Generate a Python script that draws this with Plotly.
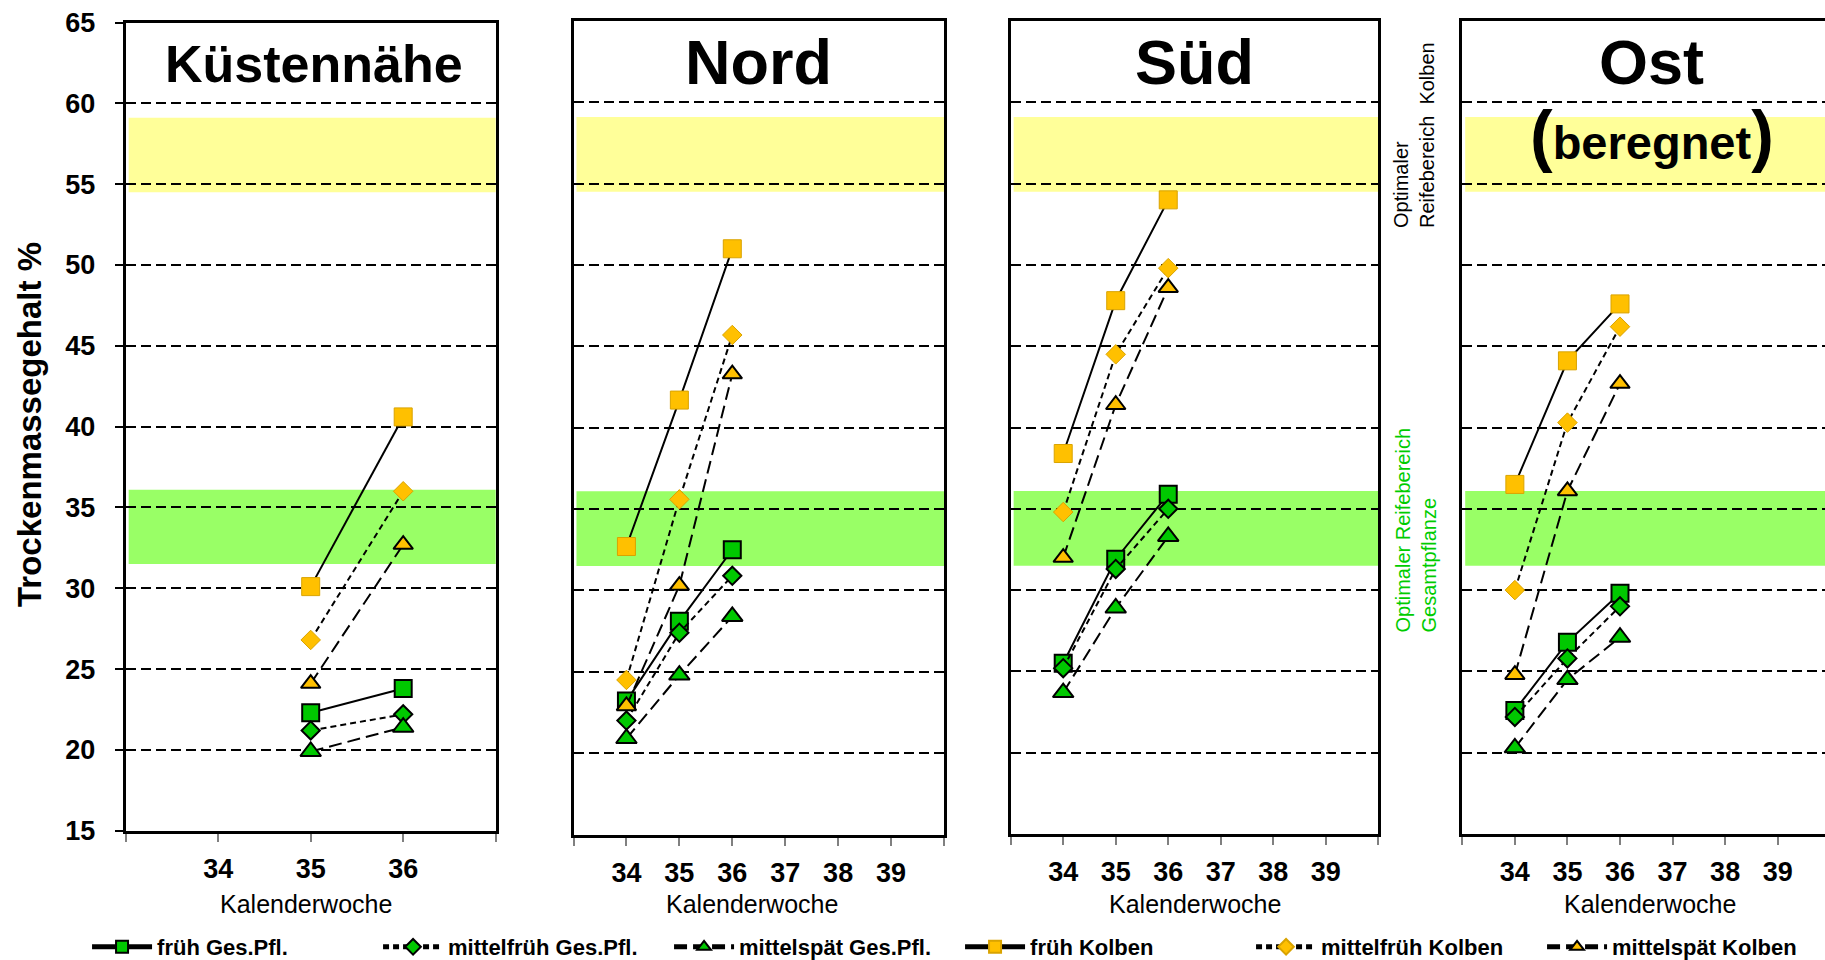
import plotly.graph_objects as go

# ---------------- data ----------------
regions = ["Küstennähe", "Nord", "Süd", "Ost"]
series_names = ["früh Ges.Pfl.", "mittelfrüh Ges.Pfl.", "mittelspät Ges.Pfl.",
                "früh Kolben", "mittelfrüh Kolben", "mittelspät Kolben"]

weeks_kueste = [35, 36]
weeks = [34, 35, 36]

kueste_frueh_ges = [22.3, 23.8]
kueste_mfrueh_ges = [21.2, 22.2]
kueste_mspaet_ges = [19.9, 21.4]
kueste_frueh_kol = [30.1, 40.6]
kueste_mfrueh_kol = [26.8, 36.0]
kueste_mspaet_kol = [24.1, 32.7]

nord_frueh_ges = [23.2, 28.1, 32.5]
nord_mfrueh_ges = [22.0, 27.4, 30.9]
nord_mspaet_ges = [20.9, 24.8, 28.4]
nord_frueh_kol = [32.7, 41.7, 51.0]
nord_mfrueh_kol = [24.5, 35.6, 45.7]
nord_mspaet_kol = [22.9, 30.3, 43.3]

sued_frueh_ges = [25.5, 31.9, 35.9]
sued_mfrueh_ges = [25.2, 31.3, 35.0]
sued_mspaet_ges = [23.7, 28.9, 33.3]
sued_frueh_kol = [38.4, 47.8, 54.0]
sued_mfrueh_kol = [34.8, 44.5, 49.8]
sued_mspaet_kol = [32.0, 41.4, 48.6]

ost_frueh_ges = [22.6, 26.8, 29.8]
ost_mfrueh_ges = [22.2, 25.8, 29.0]
ost_mspaet_ges = [20.3, 24.5, 27.1]
ost_frueh_kol = [36.5, 44.1, 47.6]
ost_mfrueh_kol = [30.0, 40.3, 46.2]
ost_mspaet_kol = [24.8, 36.1, 42.7]

band_kolben = [54.5, 59.1]
band_gesamt = [31.5, 36.1]

y_ticks = [15, 20, 25, 30, 35, 40, 45, 50, 55, 60, 65]
x_ticks_kueste = [33, 34, 35, 36, 37]
x_ticklabels_kueste = ["", "34", "35", "36", ""]
x_ticks = [33, 34, 35, 36, 37, 38, 39, 40]
x_ticklabels = ["", "34", "35", "36", "37", "38", "39", ""]

panel_data = [
    (weeks_kueste, [kueste_frueh_ges, kueste_mfrueh_ges, kueste_mspaet_ges,
                    kueste_frueh_kol, kueste_mfrueh_kol, kueste_mspaet_kol]),
    (weeks, [nord_frueh_ges, nord_mfrueh_ges, nord_mspaet_ges,
             nord_frueh_kol, nord_mfrueh_kol, nord_mspaet_kol]),
    (weeks, [sued_frueh_ges, sued_mfrueh_ges, sued_mspaet_ges,
             sued_frueh_kol, sued_mfrueh_kol, sued_mspaet_kol]),
    (weeks, [ost_frueh_ges, ost_mfrueh_ges, ost_mspaet_ges,
             ost_frueh_kol, ost_mfrueh_kol, ost_mspaet_kol]),
]

# ---------------- styles ----------------
W, H = 1825, 960
FONT = "Liberation Sans, Arial, sans-serif"
GREEN = "#00C800"
ORANGE = "#FFC000"
YELLOW_BAND = "#FFFF99"
GREEN_BAND = "#99FF66"

dashes = ["solid", "6px,4px", "13px,6px", "solid", "6px,4px", "13px,6px"]
symbols = ["square", "diamond", "triangle-up", "square", "diamond", "triangle-up"]
fills = [GREEN, GREEN, GREEN, ORANGE, ORANGE, ORANGE]
sizes = [17, 14, 18, 18, 15, 17]
mline_colors = ["black", "black", "black", "#D9A300", "#D9A300", "black"]
mline_widths = [2, 2, 2, 1, 1, 2]

# pixel layout of panels: (left, right, top, bottom)
panels_px = [
    (125.7, 495.7, 22.5, 830.7),
    (573.5, 944.0, 21.0, 834.5),
    (1010.7, 1378.3, 21.0, 834.0),
    (1462.3, 1825.0, 21.0, 834.0),
]
x_ranges = [[33, 37], [33, 40], [33, 40], [33, 39.9]]
xtitle_px = [306, 752, 1195, 1650]

fig = go.Figure()

for i, (xs, ys_list) in enumerate(panel_data):
    xa = "x" if i == 0 else f"x{i+1}"
    ya = "y" if i == 0 else f"y{i+1}"
    for k, ys in enumerate(ys_list):
        fig.add_trace(go.Scatter(
            x=xs, y=ys, xaxis=xa, yaxis=ya,
            mode="lines+markers",
            name=series_names[k],
            legendgroup=series_names[k],
            showlegend=(i == 0),
            line=dict(color="black", width=2, dash=dashes[k]),
            marker=dict(symbol=symbols[k], size=sizes[k], color=fills[k],
                        line=dict(color=mline_colors[k], width=mline_widths[k])),
        ))

layout = dict(
    width=W, height=H,
    margin=dict(l=0, r=0, t=0, b=0, autoexpand=False),
    paper_bgcolor="white", plot_bgcolor="white",
    font=dict(family=FONT, color="black"),
    showlegend=True,
    legend=dict(orientation="h", x=0.0477, y=1 - 947 / H, xanchor="left", yanchor="middle",
                font=dict(family=FONT, size=22, color="black", weight="bold"),
                itemwidth=60, entrywidth=216, entrywidthmode="pixels",
                itemsizing="constant", bgcolor="rgba(0,0,0,0)", tracegroupgap=0),
)

shapes = []
annotations = []
for i, (l, r, t, b) in enumerate(panels_px):
    xkey = "xaxis" if i == 0 else f"xaxis{i+1}"
    ykey = "yaxis" if i == 0 else f"yaxis{i+1}"
    xa = "x" if i == 0 else f"x{i+1}"
    ya = "y" if i == 0 else f"y{i+1}"
    layout[xkey] = dict(
        domain=[l / W, r / W], range=x_ranges[i], anchor=ya,
        tickvals=x_ticks_kueste if i == 0 else x_ticks,
        ticktext=x_ticklabels_kueste if i == 0 else x_ticklabels,
        ticks="outside", ticklen=8, tickwidth=1.5, tickcolor="#808080",
        tickfont=dict(family=FONT, size=27, color="black", weight="bold"),
        ticklabelstandoff=4,
        showgrid=False, zeroline=False,
        showline=True, linecolor="black", linewidth=3, mirror=True,
        fixedrange=True,
    )
    layout[ykey] = dict(
        domain=[1 - b / H, 1 - t / H], range=[15, 65], anchor=xa,
        tickvals=y_ticks,
        showticklabels=(i == 0),
        ticks="outside" if i == 0 else "", ticklen=8, tickwidth=2, tickcolor="black",
        tickfont=dict(family=FONT, size=27, color="black", weight="bold"),
        ticklabelstandoff=14,
        showgrid=True, gridcolor="black", gridwidth=2.3, griddash="10px,5px",
        zeroline=False,
        showline=True, linecolor="black", linewidth=3, mirror=(i != 3),
        fixedrange=True,
    )
    # optimal ripeness bands
    for band, col in ((band_kolben, YELLOW_BAND), (band_gesamt, GREEN_BAND)):
        shapes.append(dict(type="rect", xref=f"{xa} domain", yref=ya,
                           x0=0.008, x1=1.0, y0=band[0], y1=band[1],
                           fillcolor=col, line=dict(width=0), layer="below"))
    # x-axis title
    annotations.append(dict(text="Kalenderwoche", xref="paper", yref="paper",
                            x=xtitle_px[i] / W, y=1 - 904 / H, xanchor="center",
                            yanchor="middle", showarrow=False,
                            font=dict(family=FONT, size=25, color="black")))

# panel titles
title_pos = [(35.04, 52), (36.5, 63), (36.5, 63), (36.6, 63)]
for i, name in enumerate(regions):
    xa = "x" if i == 0 else f"x{i+1}"
    ya = "y" if i == 0 else f"y{i+1}"
    annotations.append(dict(text=name, xref=xa, yref=ya, x=title_pos[i][0], y=62.45,
                            xanchor="center", yanchor="middle", showarrow=False,
                            font=dict(family=FONT, size=title_pos[i][1], color="black",
                                      weight="bold")))

annotations.append(dict(
    text="<span style='font-size:68px'>(</span>beregnet<span style='font-size:68px'>)</span>",
    xref="x4", yref="y4", x=36.6, y=58.0, xanchor="center", yanchor="middle",
    showarrow=False, font=dict(family=FONT, size=47, color="black", weight="bold")))

# y-axis title
annotations.append(dict(text="Trockenmassegehalt %", xref="paper", yref="paper",
                        x=30 / W, y=1 - 425 / H, xanchor="center", yanchor="middle",
                        textangle=-90, showarrow=False,
                        font=dict(family=FONT, size=33, color="black", weight="bold")))

# side labels for the bands
annotations.append(dict(text="Optimaler<br>Reifebereich\u00a0\u00a0Kolben",
                        xref="paper", yref="paper", x=1414 / W, y=1 - 230 / H,
                        xanchor="center", yanchor="bottom", textangle=-90, align="left",
                        showarrow=False, font=dict(family=FONT, size=20, color="black")))
annotations.append(dict(text="Optimaler Reifebereich<br>Gesamtpflanze",
                        xref="paper", yref="paper", x=1415 / W, y=1 - 635 / H,
                        xanchor="center", yanchor="bottom", textangle=-90, align="left",
                        showarrow=False, font=dict(family=FONT, size=20, color="#00CC00")))

layout["shapes"] = shapes
layout["annotations"] = annotations
fig.update_layout(**layout)

fig.write_html("out.html", config={"displayModeBar": False},
               post_script="document.body.style.margin='0px';document.body.style.overflow='hidden';")
